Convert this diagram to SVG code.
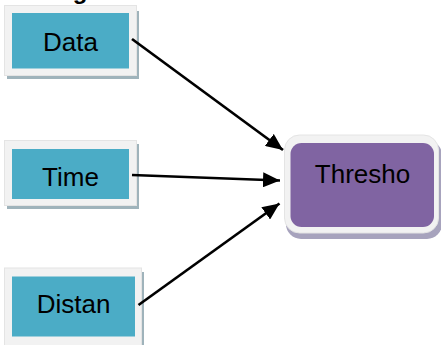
<svg xmlns="http://www.w3.org/2000/svg" width="441" height="345" viewBox="0 0 441 345">
  <defs>
    <marker id="arrow" markerUnits="userSpaceOnUse" markerWidth="17" markerHeight="15" viewBox="0 0 17 15" refX="17" refY="7.5" orient="auto">
      <path d="M0,0 L17,7.5 L0,15 Z" fill="#000"/>
    </marker>
    <style>
      .frame { fill: #f2f2f2; stroke: #e4e4e4; stroke-width: 1; }
      .shadow { fill: #9fb3bb; }
      .shadow-p { fill: #a7a3bd; }
      .teal { fill: #4bacc6; }
      .purple { fill: #8064a2; }
      .label { font-family: "Liberation Sans", Arial, sans-serif; font-size: 26px; fill: #000; text-anchor: middle; }
      .conn { stroke: #000; stroke-width: 2.7; fill: none; marker-end: url(#arrow); }
    </style>
  </defs>
  <rect width="441" height="345" fill="#fff"/>

  <!-- descender of the heading above the drawing area -->
  <text x="80" y="-1.5" font-family="Liberation Sans, Arial, sans-serif" font-size="24" font-weight="bold" text-anchor="middle">g</text>

  <g id="node-data">
    <rect class="shadow" x="7" y="11" width="132" height="68"/>
    <rect class="frame" x="4.5" y="5.5" width="132" height="70"/>
    <rect class="teal" x="12" y="13" width="117" height="55.5"/>
    <text class="label" x="70.5" y="51">Data</text>
  </g>

  <g id="node-time">
    <rect class="shadow" x="7" y="144" width="132" height="65"/>
    <rect class="frame" x="4.5" y="140.5" width="132" height="65"/>
    <rect class="teal" x="12" y="149" width="117" height="50"/>
    <text class="label" x="70.5" y="186">Time</text>
  </g>

  <g id="node-distan">
    <rect class="shadow" x="7" y="272" width="137" height="80"/>
    <rect class="frame" x="4.5" y="268" width="137" height="85"/>
    <rect class="teal" x="12" y="276.5" width="123" height="60"/>
    <text class="label" x="73.5" y="313">Distan</text>
  </g>

  <g id="node-thresho">
    <rect class="shadow-p" x="286" y="140" width="156" height="99" rx="15"/>
    <rect class="frame" x="284.5" y="135" width="154" height="98" rx="15"/>
    <rect class="purple" x="290.5" y="143" width="143.5" height="84" rx="11"/>
    <text class="label" x="362.5" y="183">Thresho</text>
  </g>

  <g id="connectors">
    <line class="conn" x1="132" y1="39" x2="283" y2="150"/>
    <line class="conn" x1="132" y1="175" x2="280" y2="180.5"/>
    <line class="conn" x1="138.5" y1="305" x2="279.5" y2="203.5"/>
  </g>
</svg>
